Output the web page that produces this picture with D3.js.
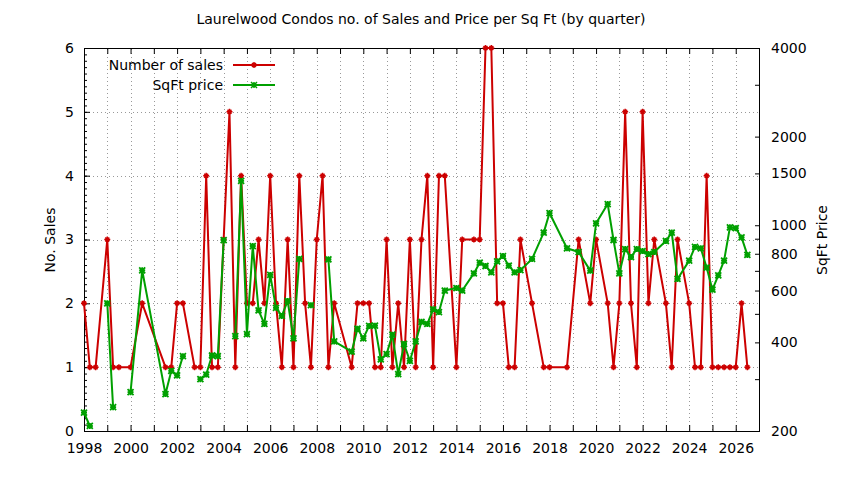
<!DOCTYPE html>
<html>
<head>
<meta charset="utf-8">
<script src="https://cdn.jsdelivr.net/npm/d3@7"></script>
<style>
  html, body { margin: 0; padding: 0; background: #fff; overflow: hidden; }
  svg { display: block; }
  text { font-family: "DejaVu Sans", sans-serif; }
</style>
</head>
<body>
<script>
// quarter (decimal year), sales per quarter, price per sq ft (null = no price, breaks the line)
const quarters = [
  1998.0, 1998.25, 1998.5, 1999.0, 1999.25, 1999.5, 2000.0, 2000.5, 2001.5, 2001.75,
  2002.0, 2002.25, 2002.75, 2003.0, 2003.25, 2003.5, 2003.75, 2004.0, 2004.25, 2004.5,
  2004.75, 2005.0, 2005.25, 2005.5, 2005.75, 2006.0, 2006.25, 2006.5, 2006.75, 2007.0,
  2007.25, 2007.5, 2007.75, 2008.0, 2008.25, 2008.5, 2008.75, 2009.5, 2009.75, 2010.0,
  2010.25, 2010.5, 2010.75, 2011.0, 2011.25, 2011.5, 2011.75, 2012.0, 2012.25, 2012.5,
  2012.75, 2013.0, 2013.25, 2013.5, 2014.0, 2014.25, 2014.75, 2015.0, 2015.25, 2015.5,
  2015.75, 2016.0, 2016.25, 2016.5, 2016.75, 2017.25, 2017.75, 2018.0, 2018.75, 2019.25,
  2019.75, 2020.0, 2020.5, 2020.75, 2021.0, 2021.25, 2021.5, 2021.75, 2022.0, 2022.25,
  2022.5, 2023.0, 2023.25, 2023.5, 2024.0, 2024.25, 2024.5, 2024.75, 2025.0, 2025.25,
  2025.5, 2025.75, 2026.0, 2026.25, 2026.5
];
const sales = [
  2, 1, 1, 3, 1, 1, 1, 2, 1, 1,
  2, 2, 1, 1, 4, 1, 1, 3, 5, 1,
  4, 2, 2, 3, 2, 4, 2, 1, 3, 1,
  4, 2, 1, 3, 4, 1, 2, 1, 2, 2,
  2, 1, 1, 3, 1, 2, 1, 3, 1, 3,
  4, 1, 4, 4, 1, 3, 3, 3, 6, 6,
  2, 2, 1, 1, 3, 2, 1, 1, 1, 3,
  2, 3, 2, 1, 2, 5, 2, 1, 5, 2,
  3, 2, 1, 3, 2, 1, 1, 4, 1, 1,
  1, 1, 1, 2, 1
];
const sqftPrice = [
  231, 208, null, 543, 241, null, 271, 703, 267, 320,
  309, 359, null, 300, 311, 361, 359, 890, null, 420,
  1414, 427, 850, 514, 462, 678, 524, 492, 553, 413,
  768, null, 535, null, null, 766, 403, 372, 445, 413,
  455, 456, 350, 365, 425, 312, 395, 346, 403, 470,
  462, 518, 507, 600, 612, 600, 686, 746, 727, 692,
  754, 786, 729, 692, 704, 768, 944, 1100, 835, 811,
  701, 1015, 1180, 891, 686, 830, 780, 830, 817, 798,
  811, 884, 944, 657, 758, 844, 835, 718, 604, 676,
  758, 984, 977, 909, 793
];
const yearTicks = d3.range(1998, 2028);
const yearLabels = d3.range(1998, 2027, 2);
const salesTicks = [0, 1, 2, 3, 4, 5, 6];
const priceTicks = [200, 400, 600, 800, 1000, 1500, 2000, 4000];
const priceMinor = [300, 500, 700, 900, 3000];
const seriesNames = ["Number of sales", "SqFt price"];

const W = 844, H = 480;
const m = { left: 84, right: 759, top: 48, bottom: 431 };
const red = "#cc0000", green = "#00a000";

const x = d3.scaleLinear().domain([1998, 2027]).range([m.left, m.right]);
const y = d3.scaleLinear().domain([0, 6]).range([m.bottom, m.top]);
const y2 = d3.scaleLog().domain([200, 4000]).range([m.bottom, m.top]);

const svg = d3.select("body").append("svg")
    .attr("width", W).attr("height", H)
    .attr("font-size", 14);

svg.append("rect").attr("width", W).attr("height", H).attr("fill", "#fff");

// dotted grid, one line per year and per sale count
const grid = svg.append("g")
    .attr("stroke", "#999").attr("stroke-width", 1)
    .attr("stroke-dasharray", "1,3").attr("shape-rendering", "crispEdges");
grid.selectAll("line.gv")
  .data(yearTicks.filter(d => d > 1998 && d < 2027))
  .join("line")
    .attr("class", "gv")
    .attr("x1", d => Math.round(x(d)) + 0.5).attr("x2", d => Math.round(x(d)) + 0.5)
    .attr("y1", m.top + 1).attr("y2", m.bottom);
grid.selectAll("line.gh")
  .data(salesTicks.filter(d => d > 0 && d < 6))
  .join("line")
    .attr("class", "gh")
    .attr("x1", m.left + 1).attr("x2", m.right)
    .attr("y1", d => Math.round(y(d)) + 0.5).attr("y2", d => Math.round(y(d)) + 0.5);

// axes
svg.append("g").attr("class", "ax").attr("transform", `translate(0,${m.bottom})`)
    .call(d3.axisBottom(x).tickValues(yearTicks).tickSize(-6).tickFormat(""));
svg.append("g").attr("class", "ax").attr("transform", `translate(0,${m.top})`)
    .call(d3.axisTop(x).tickValues(yearTicks).tickSize(-6).tickFormat(""));
svg.append("g").attr("class", "ax").attr("transform", `translate(0,${m.bottom})`)
    .call(d3.axisBottom(x).tickValues(yearLabels).tickSize(0).tickPadding(12).tickFormat(d3.format("d")));

svg.append("g").attr("class", "ax").attr("transform", `translate(${m.left},0)`)
    .call(d3.axisLeft(y).tickValues(salesTicks).tickSize(-6).tickPadding(10).tickFormat(d3.format("d")));
svg.append("g").attr("class", "ax").attr("transform", `translate(${m.left},0)`)
    .call(d3.axisLeft(y).tickValues(d3.range(0, 6.001, 0.1)).tickSize(-3).tickFormat(""));

svg.append("g").attr("class", "ax").attr("transform", `translate(${m.right},0)`)
    .call(d3.axisRight(y2).tickValues(priceTicks).tickSize(-4).tickPadding(12).tickFormat(d3.format("d")));
svg.append("g").attr("class", "ax").attr("transform", `translate(${m.right},0)`)
    .call(d3.axisRight(y2).tickValues(priceMinor).tickSize(-4).tickFormat(""));

svg.selectAll(".ax .domain").remove();
svg.selectAll(".ax .tick line").attr("stroke", "#000");
svg.selectAll(".ax .tick text").attr("font-size", 14).attr("fill", "#000")
    .attr("font-family", "DejaVu Sans, sans-serif");

// border
svg.append("rect")
    .attr("x", m.left + 0.5).attr("y", m.top + 0.5)
    .attr("width", m.right - m.left).attr("height", m.bottom - m.top)
    .attr("fill", "none").attr("stroke", "#000");

// clip to plot
svg.append("clipPath").attr("id", "clip").append("rect")
    .attr("x", m.left - 4).attr("y", m.top - 4)
    .attr("width", m.right - m.left + 8).attr("height", m.bottom - m.top + 8);

const rows = quarters.map((t, i) => ({ t, n: sales[i], p: sqftPrice[i] }));
const plot = svg.append("g").attr("clip-path", "url(#clip)");

const redMark = "M-3,0H3M0,-3V3M-2,-2L2,2M-2,2L2,-2";
const greenMark = "M-3,-3L3,3M-3,3L3,-3M-3,0H3M0,-3V3";

// sales line
plot.append("path")
    .datum(rows)
    .attr("fill", "none").attr("stroke", red).attr("stroke-width", 2)
    .attr("stroke-linejoin", "round")
    .attr("d", d3.line().x(d => x(d.t)).y(d => y(d.n)));
plot.append("g").selectAll("path")
  .data(rows)
  .join("path")
    .attr("transform", d => `translate(${x(d.t)},${y(d.n)})`)
    .attr("d", redMark).attr("stroke", red).attr("stroke-width", 1.5);

// price line
plot.append("path")
    .datum(rows)
    .attr("fill", "none").attr("stroke", green).attr("stroke-width", 2)
    .attr("stroke-linejoin", "round")
    .attr("d", d3.line().defined(d => d.p != null).x(d => x(d.t)).y(d => y2(d.p)));
plot.append("g").selectAll("path")
  .data(rows.filter(d => d.p != null))
  .join("path")
    .attr("transform", d => `translate(${x(d.t)},${y2(d.p)})`)
    .attr("d", greenMark).attr("stroke", green).attr("stroke-width", 1.8);

// legend
const legend = svg.append("g");
[[red, redMark], [green, greenMark]].forEach(([c, mk], i) => {
  const ly = 65 + i * 20;
  legend.append("text").attr("x", 223).attr("y", ly).attr("dy", "0.35em")
      .attr("text-anchor", "end").attr("fill", "#000").text(seriesNames[i]);
  legend.append("line").attr("x1", 233).attr("x2", 275).attr("y1", ly).attr("y2", ly)
      .attr("stroke", c).attr("stroke-width", 2);
  legend.append("path").attr("transform", `translate(254,${ly})`)
      .attr("d", mk).attr("stroke", c).attr("stroke-width", 1.5);
});

// titles
svg.append("text").attr("x", 421).attr("y", 19).attr("dy", "0.35em")
    .attr("text-anchor", "middle").attr("font-size", 14)
    .text("Laurelwood Condos no. of Sales and Price per Sq Ft (by quarter)");
svg.append("text").attr("transform", "translate(50,240) rotate(-90)")
    .attr("text-anchor", "middle").attr("dy", "0.35em").text("No. Sales");
svg.append("text").attr("transform", "translate(822,240) rotate(-90)")
    .attr("text-anchor", "middle").attr("dy", "0.35em").text("SqFt Price");
</script>
</body>
</html>
